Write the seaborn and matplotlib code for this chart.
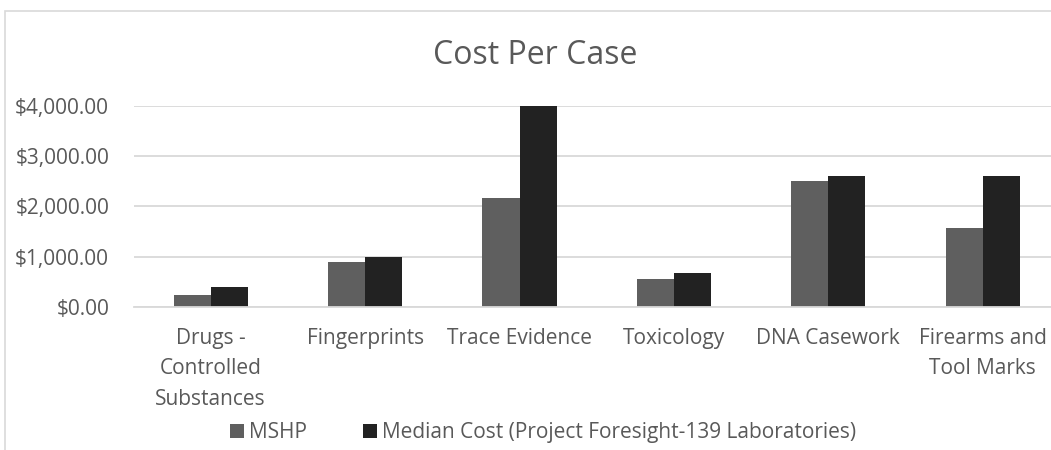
import matplotlib
matplotlib.use("Agg")
import matplotlib.pyplot as plt
import matplotlib.patches as mpatches
import matplotlib.ticker as mticker
import pandas as pd
import seaborn as sns

# Cost per case by discipline
categories = [
    "Drugs -\nControlled\nSubstances",
    "Fingerprints",
    "Trace Evidence",
    "Toxicology",
    "DNA Casework",
    "Firearms and\nTool Marks",
]
series_names = ["MSHP", "Median Cost (Project Foresight-139 Laboratories)"]
mshp_cost = [233, 897, 2160, 552, 2500, 1563]
median_cost = [400, 985, 4000, 666, 2605, 2605]
y_ticks = [0, 1000, 2000, 3000, 4000]

df = pd.DataFrame({
    "Discipline": categories * 2,
    "Series": [series_names[0]] * len(categories) + [series_names[1]] * len(categories),
    "Cost": mshp_cost + median_cost,
})

sns.set_theme(style="white")
plt.rcParams["font.family"] = ["Open Sans", "DejaVu Sans"]

W, H = 1051, 450
fig = plt.figure(figsize=(W / 100, H / 100), dpi=100)

# plot area in pixel terms (the chart continues slightly past the right edge)
x0, x1 = 133.5, 1060.0
y_top, y_base = 106.0, 306.7
ax = fig.add_axes([x0 / W, (H - y_base) / H, (x1 - x0) / W, (y_base - y_top) / H])

text_grey = "#595959"
grid_grey = "#d9d9d9"
palette = {series_names[0]: "#5f5f5f", series_names[1]: "#222222"}

sns.barplot(
    data=df, x="Discipline", y="Cost", hue="Series", order=categories,
    hue_order=series_names, palette=palette, width=0.48, gap=0,
    linewidth=0, saturation=1, ax=ax, legend=True,
)

ax.set_ylim(0, 4000)
ax.set_xlim(-0.5, len(categories) - 0.5)
ax.set_yticks(y_ticks)
ax.yaxis.set_major_formatter(mticker.FuncFormatter(lambda v, p: f"${v:,.2f}"))
ax.set_xlabel("")
ax.set_ylabel("")
ax.grid(axis="y", color=grid_grey, linewidth=1.3)
ax.set_axisbelow(True)
for s in ["top", "right", "left"]:
    ax.spines[s].set_visible(False)
ax.spines["bottom"].set_color(grid_grey)
ax.spines["bottom"].set_linewidth(1.3)
ax.tick_params(axis="y", length=0, pad=17.5, labelsize=15, labelcolor=text_grey)
ax.tick_params(axis="x", length=0, pad=15, labelsize=15, labelcolor=text_grey)
for lbl in ax.get_xticklabels():
    lbl.set_linespacing(1.6)

# legend below the category labels
handles, labels = ax.get_legend_handles_labels()
ax.get_legend().remove()
fig.legend(
    handles, labels, loc="center", bbox_to_anchor=(543 / W, (H - 432.5) / H),
    ncol=2, frameon=False, fontsize=15, labelcolor=text_grey,
    handlelength=0.67, handleheight=0.67, handletextpad=0.25,
    columnspacing=2.7, borderpad=0,
)

fig.text(535 / W, (H - 55) / H, "Cost Per Case", ha="center", va="center",
         fontsize=23, color=text_grey)

# chart-area frame
fig.patches.append(mpatches.Rectangle(
    (4.5 / W, -0.1), 1.2, (H - 10.5) / H + 0.1, transform=fig.transFigure,
    fill=False, edgecolor=grid_grey, linewidth=1.2,
))

fig.savefig("out.png", dpi=100)
